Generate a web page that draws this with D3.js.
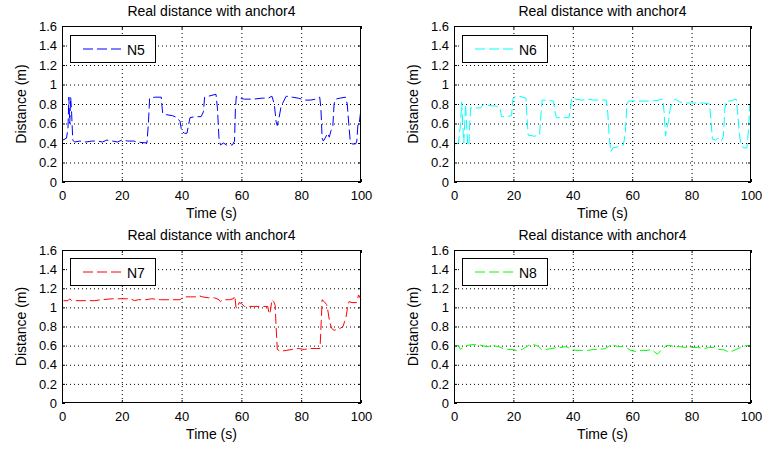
<!DOCTYPE html>
<html><head><meta charset="utf-8">
<script src="https://cdn.jsdelivr.net/npm/d3@7"></script>
<style>
html,body{margin:0;padding:0;background:#fff;}
svg{display:block;font-family:"Liberation Sans",Arial,sans-serif;}
</style></head>
<body><svg id="chart" width="762" height="449"></svg>
<script>
const titles = ["Real distance with anchor4","Real distance with anchor4","Real distance with anchor4","Real distance with anchor4"];
const seriesNames = ["N5","N6","N7","N8"];
const seriesColors = ["#0000ff","#00ffff","#ff0000","#00ff00"];
const xTicks = [0,20,40,60,80,100];
const yTicks = [0,0.2,0.4,0.6,0.8,1,1.2,1.4,1.6];
const yTickLabels = ["0","0.2","0.4","0.6","0.8","1","1.2","1.4","1.6"];
const xLabel = "Time (s)";
const yLabel = "Distance (m)";

const n5 = [[0.3,0.43],[1.5,0.45],[2.0,0.55],[2.3,0.87],[2.6,0.6],[2.9,0.87],[3.2,0.72],[3.6,0.43],[4.2,0.41],[6,0.42],[8,0.41],[10,0.42],[12,0.42],[13.5,0.41],[15,0.43],[17,0.42],[18.5,0.41],[20,0.43],[22,0.42],[24,0.42],[25,0.41],[28.4,0.40],[28.9,0.60],[29.3,0.86],[31,0.87],[33.2,0.87],[33.4,0.79],[33.7,0.70],[35,0.69],[37,0.68],[38.5,0.66],[39.5,0.62],[40,0.52],[41,0.50],[41.8,0.50],[42.3,0.58],[42.8,0.66],[44.5,0.67],[46.5,0.67],[47.3,0.72],[47.7,0.87],[49,0.88],[51.5,0.90],[52,0.75],[52.5,0.45],[53,0.38],[54,0.40],[55,0.38],[57,0.38],[57.7,0.42],[58,0.75],[58.3,0.88],[59,0.86],[61,0.85],[64,0.85],[67,0.86],[69,0.86],[70.2,0.88],[71,0.80],[71.6,0.62],[72,0.58],[72.6,0.66],[73.3,0.78],[74,0.82],[75,0.88],[77,0.87],[79,0.86],[81,0.84],[83,0.84],[85,0.85],[86.2,0.87],[86.6,0.75],[87,0.45],[87.4,0.42],[88.2,0.46],[88.8,0.50],[89.4,0.46],[90,0.53],[90.6,0.58],[91,0.80],[91.5,0.85],[93,0.86],[94.8,0.87],[95.4,0.80],[95.9,0.60],[96.4,0.42],[97,0.39],[98.2,0.39],[98.6,0.42],[99,0.60],[99.4,0.60],[100,0.75]];

const n6 = [[0.5,0.39],[1.5,0.40],[2.2,0.60],[2.6,0.82],[3.0,0.55],[3.3,0.40],[3.6,0.60],[3.9,0.80],[4.3,0.55],[4.6,0.40],[5.0,0.37],[5.3,0.60],[5.6,0.76],[7,0.76],[9,0.76],[10,0.80],[11,0.79],[12.5,0.78],[14,0.78],[15.5,0.76],[16,0.67],[17.5,0.67],[19.4,0.68],[19.8,0.85],[20.2,0.87],[22,0.88],[24.2,0.86],[24.6,0.65],[25,0.48],[27,0.47],[28.8,0.48],[29.3,0.70],[29.7,0.84],[31,0.84],[33.5,0.83],[34,0.72],[34.5,0.66],[36,0.66],[38.7,0.66],[39.2,0.75],[39.6,0.86],[41,0.85],[43,0.84],[45,0.85],[47,0.84],[49,0.84],[51.3,0.84],[51.8,0.70],[52.3,0.45],[52.8,0.31],[53.5,0.35],[55,0.36],[57,0.38],[57.7,0.50],[58.2,0.80],[58.8,0.83],[61,0.83],[64,0.83],[67,0.83],[69,0.84],[70.3,0.85],[70.8,0.70],[71.2,0.47],[71.7,0.55],[72.2,0.62],[72.8,0.75],[73.5,0.82],[74.5,0.85],[76,0.82],[78,0.81],[80,0.81],[82,0.81],[84,0.81],[86,0.80],[86.5,0.65],[87,0.44],[88,0.43],[89,0.45],[90,0.42],[90.7,0.47],[91.2,0.75],[91.7,0.83],[93,0.83],[95,0.85],[95.5,0.72],[96,0.52],[96.6,0.38],[97.5,0.35],[98.6,0.35],[99.2,0.55],[99.6,0.80],[100,0.79]];

const n7 = [[0.5,1.07],[2,1.07],[2.6,1.09],[3.2,1.07],[5,1.07],[8,1.07],[11,1.07],[13,1.08],[17,1.09],[20,1.09],[23,1.09],[24.2,1.07],[25.5,1.08],[28,1.08],[30,1.09],[33,1.08],[36,1.08],[39.5,1.08],[40.5,1.11],[43,1.11],[45,1.11],[46,1.12],[47,1.11],[49,1.10],[51,1.10],[52.5,1.08],[53,1.06],[53.7,1.08],[56,1.08],[57.3,1.09],[57.8,1.12],[58.2,1.00],[58.6,0.99],[59.2,1.05],[60,1.04],[61,1.01],[64,1.01],[67,1.01],[68.8,1.01],[69.3,0.93],[69.7,0.96],[70.2,1.08],[70.8,1.06],[71.3,1.02],[71.6,0.80],[72,0.56],[73,0.54],[75,0.55],[77,0.56],[79,0.57],[81,0.56],[83,0.57],[85,0.57],[86.3,0.57],[86.7,0.85],[87,1.08],[87.7,1.06],[88.5,1.03],[89,0.95],[89.5,0.85],[90.2,0.78],[91,0.76],[92,0.77],[93,0.78],[94,0.80],[94.5,0.85],[95,0.90],[95.5,1.00],[96,1.06],[97,1.05],[98.5,1.05],[99.2,1.13],[99.7,1.10],[100,1.08]];

const n8 = [[0.5,0.60],[1.5,0.60],[2.2,0.56],[3,0.58],[4,0.60],[6,0.61],[8,0.61],[9.5,0.60],[11,0.59],[13,0.60],[15,0.59],[16.5,0.57],[18,0.56],[20,0.56],[21,0.55],[23,0.56],[24,0.58],[25.5,0.61],[27,0.61],[28.5,0.59],[29.5,0.56],[31,0.56],[33,0.57],[34.5,0.58],[36,0.58],[37.5,0.59],[38.5,0.58],[39.5,0.56],[41,0.55],[43,0.55],[45,0.55],[47,0.56],[49,0.56],[51,0.57],[52.5,0.60],[53.5,0.61],[55,0.59],[57,0.59],[58.5,0.57],[59.5,0.55],[61,0.54],[63,0.55],[65,0.55],[66.5,0.56],[68.5,0.51],[70,0.56],[71.5,0.60],[73,0.60],[74.5,0.59],[76,0.59],[78,0.58],[80,0.58],[82,0.58],[84,0.57],[86,0.58],[87.5,0.58],[89,0.56],[90.5,0.56],[92,0.54],[93.5,0.54],[95,0.56],[97,0.59],[98.5,0.60],[100,0.60]];

const seriesData = [n5, n6, n7, n8];

const panels = [
  {left:62, top:26, width:299, height:156},
  {left:454, top:26, width:297, height:156},
  {left:62, top:250, width:299, height:153},
  {left:454, top:250, width:297, height:153}
];

const svg = d3.select("#chart");

panels.forEach((p, i) => {
  const g = svg.append("g").attr("transform", `translate(${p.left},${p.top})`);
  const x = d3.scaleLinear().domain([0,100]).range([0, p.width]);
  const y = d3.scaleLinear().domain([0,1.6]).range([p.height, 0]);

  g.append("rect").attr("width", p.width).attr("height", p.height).attr("fill", "#fff");

  // grid
  const gx = g.append("g").attr("transform", `translate(0,${p.height})`)
    .call(d3.axisBottom(x).tickValues(xTicks.slice(1, -1)).tickSize(-p.height).tickFormat(""));
  const gy = g.append("g")
    .call(d3.axisLeft(y).tickValues(yTicks.slice(1, -1)).tickSize(-p.width).tickFormat(""));
  [gx, gy].forEach(a => {
    a.select(".domain").remove();
    a.selectAll("line").attr("stroke", "#000").attr("stroke-dasharray", "1,3").attr("stroke-width", 1);
  });

  // data line
  const line = d3.line().x(d => x(d[0])).y(d => y(d[1]));
  g.append("path").datum(seriesData[i])
    .attr("d", line).attr("fill", "none")
    .attr("stroke", seriesColors[i]).attr("stroke-width", 1)
    .attr("stroke-dasharray", "10,4");

  // axes with inward ticks
  const ax = g.append("g").attr("transform", `translate(0,${p.height})`)
    .call(d3.axisBottom(x).tickValues(xTicks).tickSizeInner(-3).tickSizeOuter(0).tickPadding(6));
  const ay = g.append("g")
    .call(d3.axisLeft(y).tickValues(yTicks).tickFormat((d, k) => yTickLabels[k]).tickSizeInner(-3).tickSizeOuter(0).tickPadding(5));
  const at = g.append("g")
    .call(d3.axisTop(x).tickValues(xTicks).tickSizeInner(-3).tickSizeOuter(0).tickFormat(""));
  const ar = g.append("g").attr("transform", `translate(${p.width},0)`)
    .call(d3.axisRight(y).tickValues(yTicks).tickSizeInner(-3).tickSizeOuter(0).tickFormat(""));
  [ax, ay, at, ar].forEach(a => {
    a.select(".domain").remove();
    a.selectAll("line").attr("stroke", "#000");
    a.selectAll("text").attr("fill", "#000").style("font-size", "13px")
      .style("font-family", '"Liberation Sans", Arial, sans-serif');
  });
  ax.selectAll("text").attr("dy", null).attr("y", 18).attr("dominant-baseline", "auto");

  g.append("rect").attr("x", 0.5).attr("y", 0.5).attr("width", p.width - 1).attr("height", p.height - 1)
    .attr("fill", "none").attr("stroke", "#000").attr("stroke-width", 1);

  // title and labels
  g.append("text").attr("x", p.width / 2).attr("y", -10).attr("text-anchor", "middle")
    .style("font-size", "14px").text(titles[i]);
  g.append("text").attr("x", p.width / 2).attr("y", p.height + 36).attr("text-anchor", "middle")
    .style("font-size", "14px").text(xLabel);
  g.append("text").attr("transform", `translate(-36,${p.height / 2}) rotate(-90)`)
    .attr("text-anchor", "middle").style("font-size", "14px").text(yLabel);

  // legend
  const lg = g.append("g").attr("transform", `translate(8,${i < 2 ? 9 : 8})`);
  lg.append("rect").attr("x", 0.5).attr("y", 0.5).attr("width", 85).attr("height", 27)
    .attr("fill", "#fff").attr("stroke", "#000").attr("stroke-width", 1);
  lg.append("line").attr("x1", 13).attr("x2", 53).attr("y1", 14).attr("y2", 14)
    .attr("stroke", seriesColors[i]).attr("stroke-dasharray", "10,4");
  lg.append("text").attr("x", 57).attr("y", 19.5).style("font-size", "14px").text(seriesNames[i]);
});
</script></body></html>
